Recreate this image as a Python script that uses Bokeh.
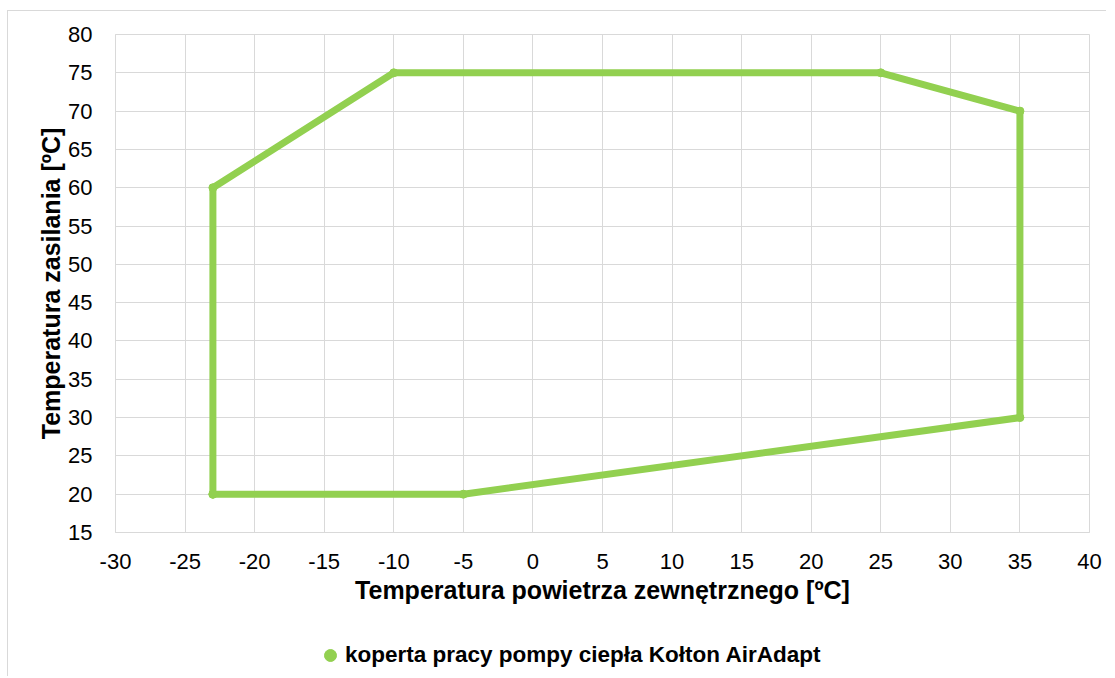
from bokeh.plotting import figure
from bokeh.layouts import column
from bokeh.models import ColumnDataSource, Legend, LegendItem, FixedTicker, Range1d
from bokeh.embed import file_html
from bokeh.resources import INLINE

# Data
x_outdoor = [-23, -23, -10, 25, 35, 35, -5, -23]
y_supply = [20, 60, 75, 75, 70, 30, 20, 20]
x_ticks = list(range(-30, 45, 5))
y_ticks = list(range(15, 85, 5))
series_name = "koperta pracy pompy ciepła Kołton AirAdapt"

GREEN = "#92d050"
GRID = "#d9d9d9"
FONT = "Liberation Sans"

src = ColumnDataSource(dict(x=x_outdoor, y=y_supply))

p = figure(frame_width=974, frame_height=498, output_backend="svg", toolbar_location=None,
           x_range=Range1d(-30, 40), y_range=Range1d(15, 80),
           min_border_left=107, min_border_right=17, min_border_top=23, min_border_bottom=100)
p.outline_line_color = GRID
p.outline_line_width = 1

line_r = p.line("x", "y", source=src, line_color=GREEN, line_width=7, line_join="round")
pts_r = p.scatter("x", "y", source=src, size=8, fill_color=GREEN, line_color=GREEN)

for ax in (p.xaxis[0], p.yaxis[0]):
    ax.axis_line_color = GRID
    ax.major_tick_line_color = None
    ax.minor_tick_line_color = None
    ax.major_label_text_font = FONT
    ax.major_label_text_font_size = "22px"
    ax.major_label_text_color = "#000000"
    ax.axis_label_text_font = FONT
    ax.axis_label_text_font_size = "25px"
    ax.axis_label_text_font_style = "bold"
    ax.axis_label_text_color = "#000000"

p.xaxis.ticker = FixedTicker(ticks=x_ticks)
p.yaxis.ticker = FixedTicker(ticks=y_ticks)
p.xaxis.major_label_overrides = {t: str(t) for t in x_ticks}
p.yaxis.major_label_overrides = {t: str(t) for t in y_ticks}
p.xaxis.axis_label = "Temperatura powietrza zewnętrznego [ºC]"
p.yaxis.axis_label = "Temperatura zasilania [ºC]"
p.xaxis.major_label_standoff = 15
p.yaxis.major_label_standoff = 17
p.xaxis.axis_label_standoff = 4
p.yaxis.axis_label_standoff = 0

p.xgrid.grid_line_color = GRID
p.ygrid.grid_line_color = GRID

# Legend strip below the chart
lf = figure(width=1098, height=44, output_backend="svg", toolbar_location=None,
            x_range=Range1d(100, 101), y_range=Range1d(100, 101),
            x_axis_location=None, y_axis_location=None,
            min_border_left=0, min_border_right=0, min_border_top=0, min_border_bottom=0)
lf.outline_line_color = None
lf.xgrid.visible = False
lf.ygrid.visible = False
leg_pts = lf.scatter("x", "y", source=src, size=8, fill_color=GREEN, line_color=GREEN)

legend = Legend(items=[LegendItem(label=series_name, renderers=[leg_pts])],
                orientation="horizontal", location=(200, 6),
                border_line_color=None, background_fill_alpha=0,
                label_text_font=FONT, label_text_font_size="22.5px",
                label_text_font_style="bold", label_text_color="#000000",
                glyph_width=30, glyph_height=30, label_standoff=0,
                margin=0, padding=0)
lf.add_layout(legend, "center")

layout = column(p, lf, spacing=0,
                styles={"margin-left": "7px", "margin-top": "10px",
                        "border-left": "1px solid #d9d9d9", "border-top": "1px solid #d9d9d9"})

open("out.html", "w").write(file_html(layout, INLINE))
